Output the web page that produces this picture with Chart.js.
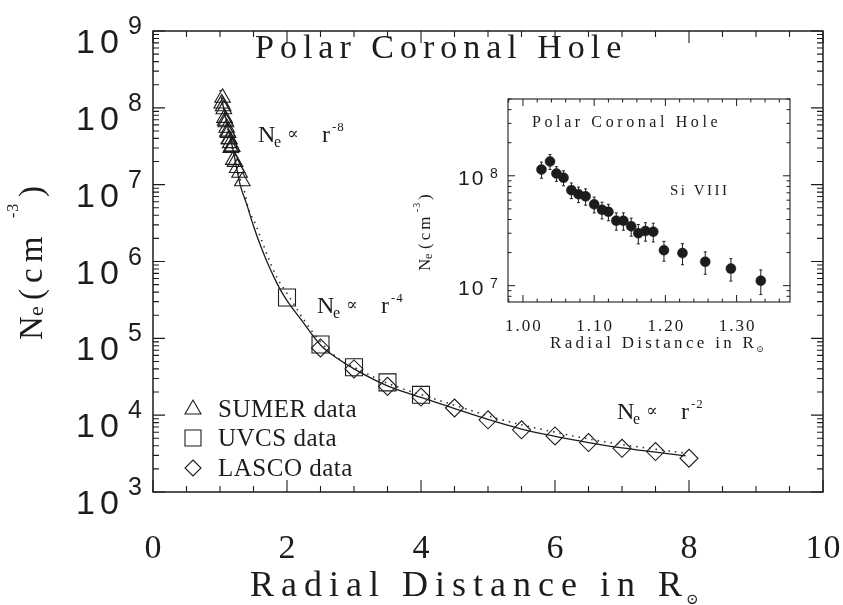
<!DOCTYPE html>
<html>
<head>
<meta charset="utf-8">
<script src="https://cdn.jsdelivr.net/npm/chart.js@4.4.1/dist/chart.umd.min.js"></script>
<style>
  html, body { margin: 0; padding: 0; background: #fff; }
  #wrap { position: relative; width: 843px; height: 605px; overflow: hidden; }
  #main { position: absolute; left: 0; top: 0; }
  #inset { position: absolute; left: 400px; top: 90px; }
</style>
</head>
<body>
<div id="wrap">
  <canvas id="main" width="843" height="605"></canvas>
  <canvas id="inset" width="410" height="275"></canvas>
</div>
<script>
// SUMER Si VIII densities (same points in the main plot and the inset)
const sumerR = [1.026, 1.038, 1.047, 1.057, 1.068, 1.078, 1.088, 1.100, 1.111, 1.120, 1.131,
                1.141, 1.152, 1.162, 1.172, 1.183, 1.198, 1.224, 1.256, 1.292, 1.334];
const sumerNe = [1.14e8, 1.35e8, 1.05e8, 9.6e7, 7.4e7, 6.8e7, 6.5e7, 5.5e7, 4.9e7, 4.7e7, 3.9e7,
                 3.9e7, 3.47e7, 3.0e7, 3.14e7, 3.1e7, 2.1e7, 1.98e7, 1.65e7, 1.43e7, 1.11e7];
const sumerErr = [1.9e7, 2.1e7, 1.6e7, 1.5e7, 1.2e7, 1.1e7, 1.1e7, 9e6, 8.5e6, 8e6, 7e6,
                  7e6, 6.5e6, 6e6, 6e6, 6e6, 4.3e6, 4.3e6, 3.8e6, 3.3e6, 2.8e6];

const uvcsR = [2.0, 2.5, 3.0, 3.5, 4.0];
const uvcsNe = [3.4e5, 8.3e4, 4.2e4, 2.67e4, 1.84e4];

const lascoR = [2.5, 3.0, 3.5, 4.0, 4.5, 5.0, 5.5, 6.0, 6.5, 7.0, 7.5, 8.0];
const lascoNe = [7.5e4, 4.0e4, 2.37e4, 1.72e4, 1.24e4, 8.7e3, 6.45e3, 5.37e3, 4.4e3, 3.7e3, 3.36e3, 2.75e3];

// solid fit curve
const fitR = [1.02, 1.1, 1.2, 1.3, 1.4, 1.5, 1.6, 1.7, 1.8, 1.9, 2.0, 2.2, 2.5, 2.75, 3.0,
              3.5, 4.0, 4.5, 5.0, 5.5, 6.0, 6.5, 7.0, 7.5, 7.95];
const fitNe = [1.35e8, 6.5e7, 2.7e7, 1.0e7, 5.5e6, 2.9e6, 1.65e6, 1.0e6, 6.4e5, 4.3e5, 3.1e5, 1.8e5,
               8.2e4, 5.5e4, 4.0e4, 2.4e4, 1.7e4, 1.22e4, 8.8e3, 6.6e3, 5.3e3, 4.4e3, 3.75e3, 3.3e3, 2.95e3];

// dotted curve
const dotR = [1.0, 1.1, 1.2, 1.3, 1.37, 1.42, 1.52, 1.62, 1.72, 1.85, 2.04, 2.25, 2.5, 2.8, 3.0,
              3.5, 4.0, 4.5, 5.0, 5.5, 6.0, 6.5, 7.0, 7.5, 7.95];
const dotNe = [1.7e8, 6.0e7, 2.6e7, 1.2e7, 7.9e6, 5.0e6, 3.2e6, 1.9e6, 1.12e6, 6.2e5, 3.4e5, 1.75e5,
               9.0e4, 5.2e4, 4.2e4, 2.6e4, 1.85e4, 1.35e4, 9.8e3, 7.5e3, 6.0e3, 4.9e3, 4.15e3, 3.6e3, 3.2e3];

const xTicksMain = [0, 2, 4, 6, 8, 10];
const yExpsMain = [3, 4, 5, 6, 7, 8, 9];
const xTicksInset = [1.00, 1.10, 1.20, 1.30];
const yExpsInset = [7, 8];

const INK = '#1c1c1c';
const SERIF = '"Liberation Serif", "Times New Roman", serif';
const SANS = '"Liberation Sans", Arial, sans-serif';
const MATH = '"DejaVu Serif", serif';

const pts = (xs, ys) => xs.map((v, i) => ({ x: v, y: ys[i] }));

// ---- small drawing helpers ----
function put(ctx, s, x, y, font, sp) {
    ctx.font = font;
    ctx.letterSpacing = (sp || 0) + 'px';
    ctx.textAlign = 'left';
    ctx.fillText(s, x, y);
    const w = ctx.measureText(s).width;
    ctx.letterSpacing = '0px';
    return w;
}
function putC(ctx, s, x, y, font, sp) {
    ctx.font = font;
    ctx.letterSpacing = (sp || 0) + 'px';
    const w = ctx.measureText(s).width - (sp || 0);
    ctx.textAlign = 'left';
    ctx.fillText(s, x - w / 2, y);
    ctx.letterSpacing = '0px';
}
// parts: [text, font, dx, dy, spacing]
function rich(ctx, x, y, parts, rot) {
    ctx.save();
    ctx.translate(x, y);
    if (rot) ctx.rotate(rot);
    parts.forEach(p => put(ctx, p[0], p[2], p[3], p[1], p[4]));
    ctx.restore();
}
function propLabel(ctx, x, y, exp) {
    rich(ctx, x, y, [
        ['N', '24px ' + SERIF, 0, 0],
        ['e', '16px ' + SERIF, 16, 5],
        ['\u221D', '17px ' + MATH, 29, -3],
        ['r', '24px ' + SERIF, 64, 0],
        [exp, '13px ' + SERIF, 74, -11, 1]
    ]);
}

function logTicks(min, max) {
    const out = [];
    for (let k = Math.floor(Math.log10(min)); k <= Math.ceil(Math.log10(max)); k++) {
        for (let m = 1; m <= 9; m++) {
            const v = m * Math.pow(10, k);
            if (v >= min * 0.999 && v <= max * 1.001) out.push({ v, major: m === 1 });
        }
    }
    return out;
}
function linTicks(min, max, minor, major) {
    const out = [];
    for (let i = Math.ceil(min / minor - 1e-6); i * minor <= max + 1e-9; i++) {
        const v = +(i * minor).toFixed(6);
        out.push({ v, major: Math.abs(v / major - Math.round(v / major)) < 1e-6 });
    }
    return out;
}

function drawFrame(chart, f) {
    const { ctx, chartArea: a, scales: { x, y } } = chart;
    ctx.save();
    ctx.strokeStyle = INK;
    ctx.lineWidth = f.boxWidth;
    ctx.strokeRect(a.left, a.top, a.right - a.left, a.bottom - a.top);
    ctx.lineWidth = f.tickWidth;
    ctx.beginPath();
    linTicks(x.min, x.max, f.xMinor, f.xMajor).forEach(t => {
        const px = x.getPixelForValue(t.v);
        const len = t.major ? f.major : f.minor;
        ctx.moveTo(px, a.bottom); ctx.lineTo(px, a.bottom - len);
        ctx.moveTo(px, a.top); ctx.lineTo(px, a.top + len);
    });
    logTicks(y.min, y.max).forEach(t => {
        const py = y.getPixelForValue(t.v);
        const len = t.major ? f.major : f.minor;
        ctx.moveTo(a.left, py); ctx.lineTo(a.left + len, py);
        ctx.moveTo(a.right, py); ctx.lineTo(a.right - len, py);
    });
    ctx.stroke();
    ctx.restore();
}

// ---- main chart ----
const mainFrame = {
    id: 'mainFrame',
    afterDraw(chart) {
        const { ctx, chartArea: a, scales: { x, y } } = chart;
        drawFrame(chart, { boxWidth: 1.5, tickWidth: 1.1, major: 12, minor: 6, xMinor: 0.5, xMajor: 2 });
        ctx.save();
        ctx.fillStyle = INK;
        // x tick labels
        xTicksMain.forEach(v => putC(ctx, String(v), x.getPixelForValue(v), a.bottom + 66, '34px ' + SERIF, 1));
        // y tick labels 10^n
        yExpsMain.forEach(k => {
            const py = y.getPixelForValue(Math.pow(10, k));
            put(ctx, '10', a.left - 77, py + 22, '34px ' + SANS, 5);
            put(ctx, String(k), a.left - 25, py + 3, '25px ' + SANS);
        });
        // axis titles
        const xt = put(ctx, 'Radial Distance in R', 250, 596, '36px ' + SERIF, 7);
        put(ctx, '\u2299', 250 + xt - 3, 604, '15px ' + MATH);
        rich(ctx, 42, 340, [
            ['N', '33px ' + SERIF, 0, 0],
            ['e', '22px ' + SERIF, 24, 1],
            ['(cm', '33px ' + SERIF, 40, 0, 6],
            ['-3', '16px ' + SERIF, 122, -24, 1],
            [')', '33px ' + SERIF, 143, 0]
        ], -Math.PI / 2);
        // title and power-law notes
        put(ctx, 'Polar Coronal Hole', 255, 58, '34px ' + SERIF, 6);
        propLabel(ctx, 258, 142, '-8');
        propLabel(ctx, 317, 313, '-4');
        propLabel(ctx, 617, 419, '-2');
        // legend
        const leg = [['triangle', 'SUMER data', 417], ['rect', 'UVCS data', 446], ['rectRot', 'LASCO data', 476]];
        ctx.strokeStyle = INK;
        ctx.lineWidth = 1.1;
        leg.forEach(([st, label, base]) => {
            const cx = 193, cy = base - 8;
            ctx.beginPath();
            if (st === 'triangle') {
                ctx.moveTo(cx, cy - 9); ctx.lineTo(cx + 8, cy + 5); ctx.lineTo(cx - 8, cy + 5);
            } else if (st === 'rect') {
                ctx.rect(cx - 8, cy - 8, 16, 16);
            } else {
                ctx.moveTo(cx, cy - 8); ctx.lineTo(cx + 8, cy); ctx.lineTo(cx, cy + 8); ctx.lineTo(cx - 8, cy);
            }
            ctx.closePath();
            ctx.stroke();
            put(ctx, label, 218, base, '25px ' + SERIF, 0.5);
        });
        ctx.restore();
    }
};

new Chart(document.getElementById('main'), {
    type: 'scatter',
    data: {
        datasets: [
            { label: 'fit', type: 'line', data: pts(fitR, fitNe), borderColor: INK, borderWidth: 1.3,
              pointRadius: 0, cubicInterpolationMode: 'monotone', fill: false },
            { label: 'dotted', type: 'line', data: pts(dotR, dotNe), borderColor: '#333', borderWidth: 1.6,
              borderDash: [1.5, 5], pointRadius: 0, cubicInterpolationMode: 'monotone', fill: false },
            { label: 'SUMER data', data: pts(sumerR, sumerNe), pointStyle: 'triangle', pointRadius: 9,
              borderColor: INK, borderWidth: 1.1, backgroundColor: 'rgba(0,0,0,0)' },
            { label: 'UVCS data', data: pts(uvcsR, uvcsNe), pointStyle: 'rect', pointRadius: 12,
              borderColor: INK, borderWidth: 1.1, backgroundColor: 'rgba(0,0,0,0)' },
            { label: 'LASCO data', data: pts(lascoR, lascoNe), pointStyle: 'rectRot', pointRadius: 9,
              borderColor: INK, borderWidth: 1.1, backgroundColor: 'rgba(0,0,0,0)' }
        ]
    },
    options: {
        responsive: false,
        animation: false,
        events: [],
        layout: { padding: { left: 153, right: 20, top: 31, bottom: 113 } },
        plugins: { legend: { display: false }, tooltip: { enabled: false } },
        scales: {
            x: { type: 'linear', min: 0, max: 10, display: false },
            y: { type: 'logarithmic', min: 1e3, max: 1e9, display: false }
        }
    },
    plugins: [mainFrame]
});

// ---- inset chart ----
const insetFrame = {
    id: 'insetFrame',
    beforeDatasetsDraw(chart) {
        const { ctx, scales: { x, y } } = chart;
        ctx.save();
        ctx.strokeStyle = INK;
        ctx.lineWidth = 1;
        ctx.beginPath();
        sumerR.forEach((r, i) => {
            const px = x.getPixelForValue(r);
            const y1 = y.getPixelForValue(sumerNe[i] + sumerErr[i]);
            const y2 = y.getPixelForValue(sumerNe[i] - sumerErr[i]);
            ctx.moveTo(px, y1); ctx.lineTo(px, y2);
            ctx.moveTo(px - 1.5, y1); ctx.lineTo(px + 1.5, y1);
            ctx.moveTo(px - 1.5, y2); ctx.lineTo(px + 1.5, y2);
        });
        ctx.stroke();
        ctx.restore();
    },
    afterDraw(chart) {
        const { ctx, chartArea: a, scales: { x, y } } = chart;
        drawFrame(chart, { boxWidth: 1.1, tickWidth: 1, major: 7, minor: 3.5, xMinor: 0.02, xMajor: 0.1 });
        ctx.save();
        ctx.fillStyle = INK;
        xTicksInset.forEach(v => putC(ctx, v.toFixed(2), x.getPixelForValue(v), a.bottom + 29, '17px ' + SERIF, 2));
        yExpsInset.forEach(k => {
            const py = y.getPixelForValue(Math.pow(10, k));
            put(ctx, '10', a.left - 50, py + 9, '21px ' + SANS, 2);
            put(ctx, String(k), a.left - 18, py + 2, '14px ' + SANS);
        });
        const xt = put(ctx, 'Radial Distance in R', a.left + 42, a.bottom + 46, '17px ' + SERIF, 3.3);
        put(ctx, '\u2299', a.left + 42 + xt - 1, a.bottom + 50, '9px ' + MATH);
        rich(ctx, a.left - 78, a.top + 172, [
            ['N', '17px ' + SERIF, 0, 0],
            ['e', '12px ' + SERIF, 12, 2],
            ['(cm', '17px ' + SERIF, 22, 0, 3],
            ['-3', '10px ' + SERIF, 59, -10, 1],
            [')', '17px ' + SERIF, 71, 0]
        ], -Math.PI / 2);
        put(ctx, 'Polar Coronal Hole', a.left + 24, a.top + 28, '16px ' + SERIF, 3.6);
        put(ctx, 'Si VIII', a.left + 162, a.top + 96, '15px ' + SERIF, 2.5);
        ctx.restore();
    }
};

new Chart(document.getElementById('inset'), {
    type: 'scatter',
    data: {
        datasets: [
            { label: 'Si VIII', data: pts(sumerR, sumerNe), pointStyle: 'circle', pointRadius: 5,
              borderColor: INK, borderWidth: 0.5, backgroundColor: INK }
        ]
    },
    options: {
        responsive: false,
        animation: false,
        events: [],
        layout: { padding: { left: 108, right: 20, top: 9, bottom: 63 } },
        plugins: { legend: { display: false }, tooltip: { enabled: false } },
        scales: {
            x: { type: 'linear', min: 0.979, max: 1.375, display: false },
            y: { type: 'logarithmic', min: 7.1e6, max: 5e8, display: false }
        }
    },
    plugins: [insetFrame]
});
</script>
</body>
</html>
